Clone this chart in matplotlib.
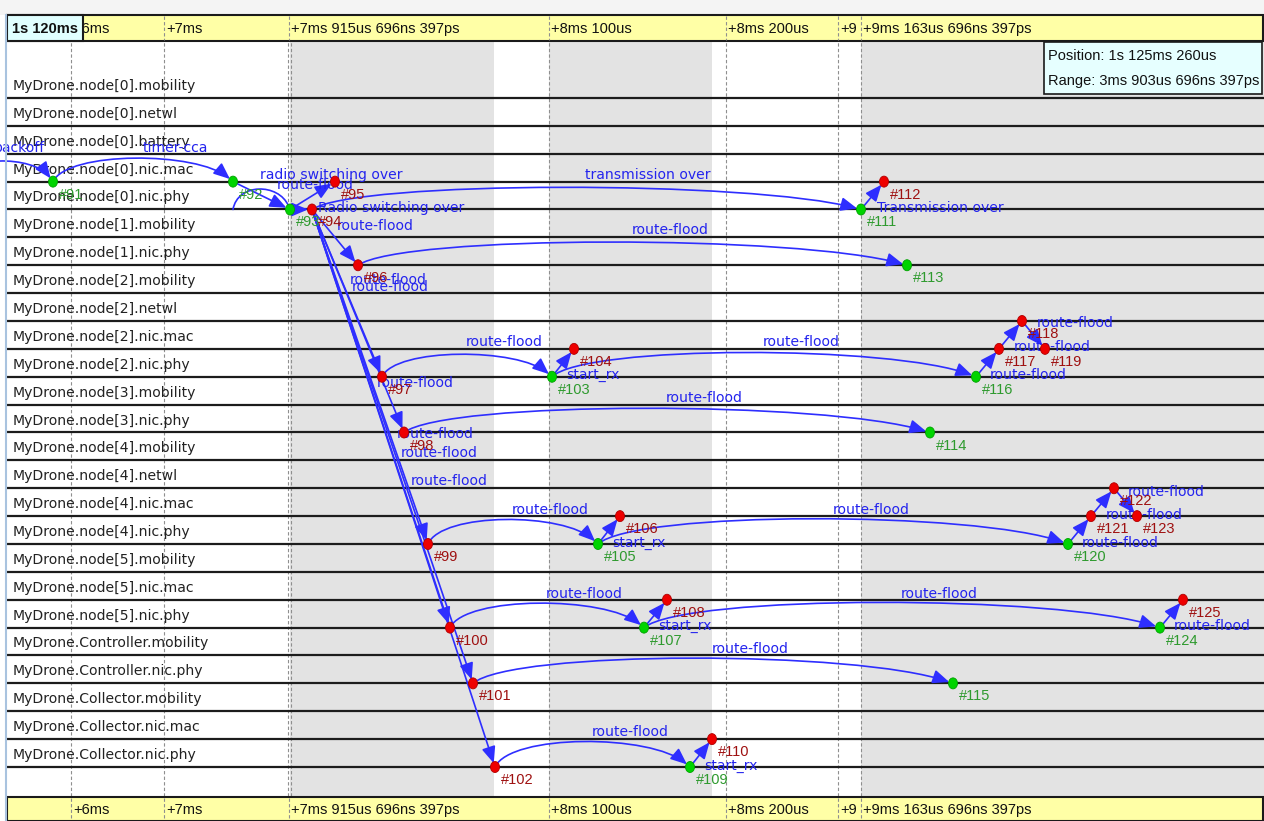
import numpy as np
import matplotlib
matplotlib.use("Agg")
import matplotlib.pyplot as plt
from matplotlib.patches import Rectangle, Ellipse, FancyArrowPatch
from matplotlib.path import Path

plt.rcParams['font.family'] = ['Liberation Sans', 'DejaVu Sans']

# ---------- Data ----------
modules = [
    "MyDrone.node[0].mobility", "MyDrone.node[0].netwl", "MyDrone.node[0].battery",
    "MyDrone.node[0].nic.mac", "MyDrone.node[0].nic.phy", "MyDrone.node[1].mobility",
    "MyDrone.node[1].nic.phy", "MyDrone.node[2].mobility", "MyDrone.node[2].netwl",
    "MyDrone.node[2].nic.mac", "MyDrone.node[2].nic.phy", "MyDrone.node[3].mobility",
    "MyDrone.node[3].nic.phy", "MyDrone.node[4].mobility", "MyDrone.node[4].netwl",
    "MyDrone.node[4].nic.mac", "MyDrone.node[4].nic.phy", "MyDrone.node[5].mobility",
    "MyDrone.node[5].nic.mac", "MyDrone.node[5].nic.phy", "MyDrone.Controller.mobility",
    "MyDrone.Controller.nic.phy", "MyDrone.Collector.mobility", "MyDrone.Collector.nic.mac",
    "MyDrone.Collector.nic.phy",
]

# timeline ticks (position on the non-linear timeline) and their labels
tick_pos = [71, 164, 289, 549, 726, 838, 861]
tick_labels = ["+6ms", "+7ms", "+7ms 915us 696ns 397ps", "+8ms 100us",
               "+8ms 200us", "+9", "+9ms 163us 696ns 397ps"]
# shaded (compressed) timeline regions
shade_start = [290, 549, 861]
shade_end = [494, 712, 1264]

# events: id, timeline position, module index, kind
event_ids = list(range(91, 126))
event_pos = [53, 233, 290, 312, 335, 358, 382, 404, 428, 450, 473, 495,
             552, 574, 598, 620, 644, 667, 690, 712,
             861, 884, 907, 930, 953, 976, 999, 1022, 1045, 1068, 1091, 1114, 1137, 1160, 1183]
event_module = [3, 3, 4, 4, 3, 6, 10, 12, 16, 19, 21, 24,
                10, 9, 16, 15, 19, 18, 24, 23,
                4, 3, 6, 12, 21, 10, 9, 8, 9, 16, 15, 14, 15, 19, 18]
green_events = [91, 92, 93, 103, 105, 107, 109, 111, 113, 114, 115, 116, 120, 124]

# messages: source event (None = before the visible range), target event, shape, arc height, label
msg_src = [None, 91, 92, 92, 93, 93, 94, 111,
           94, 94, 94, 94, 94, 94, 94,
           96, 97, 103, 103, 98, 99, 105, 105, 100, 107, 107, 101, 102, 109,
           116, 117, 118, 120, 121, 122, 124]
msg_dst = [91, 92, 93, 93, 94, 95, 111, 112,
           96, 97, 98, 99, 100, 101, 102,
           113, 103, 104, 116, 114, 105, 106, 120, 107, 108, 124, 115, 109, 110,
           117, 118, 119, 121, 122, 123, 125]
msg_shape = ["arc", "arc", "line", "stub", "line", "line", "arc", "line",
             "line", "line", "line", "line", "line", "line", "line",
             "arc", "arc", "line", "arc", "arc", "arc", "line", "arc", "arc", "line", "arc", "arc", "arc", "line",
             "line", "line", "line", "line", "line", "line", "line"]
msg_height = [20, 23, 0, 20, 0, 0, 22, 0,
              0, 0, 0, 0, 0, 0, 0,
              23, 22, 0, 24, 24, 24, 0, 25, 24, 0, 25, 25, 25, 0,
              0, 0, 0, 0, 0, 0, 0]
msg_text = ["backoff", "timer-cca", "", "radio switching over", "Radio switching over", "route-flood",
            "transmission over", "Transmission over",
            "route-flood", "route-flood", "route-flood", "route-flood", "route-flood", "route-flood", "route-flood",
            "route-flood", "route-flood", "start_rx", "route-flood", "route-flood", "route-flood", "start_rx",
            "route-flood", "route-flood", "start_rx", "route-flood", "route-flood", "route-flood", "start_rx",
            "route-flood", "route-flood", "route-flood", "route-flood", "route-flood", "route-flood", "route-flood"]
# where each message label is written
msg_text_x = [-6, 143, 0, 260, 318, 277, 585, 877,
              337, 350, 352, 377, 397, 401, 411,
              632, 466, 566, 763, 666, 512, 612, 833, 546, 658, 901, 712, 592, 704,
              990, 1014, 1037, 1082, 1106, 1128, 1174]
msg_text_y = [148, 148, 0, 175, 208, 185, 175, 208,
              226, 280, 287, 383, 434, 453, 481,
              230, 342, 375, 342, 398, 510, 543, 510, 594, 626, 594, 649, 732, 766,
              375, 347, 323, 543, 515, 492, 626]

tooltip_lines = ["Position: 1s 125ms 260us", "Range: 3ms 903us 696ns 397ps"]
range_start = "1s 120ms"

# ---------- Layout ----------
W, H = 1264, 821
ROW0, ROW_STEP = 98, 27.875
TOP_RULER = (15, 41)
BOT_RULER = (797, 821)
FS = 10.5
FS_WIDE = 10.1
WIDE = ["DejaVu Sans"]
MSG_COLOR = "#2e2eff"
TXT_BLUE = "#2424ee"


def row_y(i):
    return ROW0 + i * ROW_STEP


def ev_xy(eid):
    k = event_ids.index(eid)
    return event_pos[k], row_y(event_module[k])


fig = plt.figure(figsize=(W / 100, H / 100), dpi=100)
ax = fig.add_axes([0, 0, 1, 1])
ax.set_xlim(0, W)
ax.set_ylim(H, 0)
ax.axis("off")

# window chrome
ax.add_patch(Rectangle((0, 0), W, TOP_RULER[0], facecolor="#f4f4f4", edgecolor="none", zorder=0))
ax.plot([6, 6], [TOP_RULER[0], H], color="#a9c3df", lw=1.5, zorder=20)

# shaded regions
for s, e in zip(shade_start, shade_end):
    ax.add_patch(Rectangle((s, TOP_RULER[1]), e - s, BOT_RULER[0] - TOP_RULER[1],
                           facecolor="#e3e3e3", edgecolor="none", zorder=0))

# dashed tick lines
for x in tick_pos:
    xs = [x - 1.5, x + 1.5] if x == 289 else [x]
    for xx in xs:
        ax.plot([xx, xx], [TOP_RULER[0], H], color="#8f8f8f", lw=0.8,
                dashes=(3, 2), zorder=1)

# module axes
for i, name in enumerate(modules):
    y = row_y(i)
    ax.plot([7, W], [y, y], color="#1c1c1c", lw=1.6, zorder=2)
    ax.text(13, y - 12, name, fontsize=FS_WIDE, family=WIDE, color="#222222",
            va="center", ha="left", zorder=3)


# ---------- Messages ----------
def shorten(p_from, p_to, d):
    v = np.array(p_to, float) - np.array(p_from, float)
    n = np.hypot(*v)
    return tuple(np.array(p_to, float) - v / n * d)


for src, dst, shape, h, txt, tx, ty in zip(msg_src, msg_dst, msg_shape, msg_height,
                                           msg_text, msg_text_x, msg_text_y):
    x2, y2 = ev_xy(dst)
    if src is None:
        x1, y1 = -45, y2
    else:
        x1, y1 = ev_xy(src)
    if shape in ("arc", "stub"):
        y1 = y2 if shape == "stub" else y1
        L = x2 - x1
        top = min(y1, y2) - h / 0.75
        c1 = (x1 + 0.08 * L, top)
        c2 = (x2 - 0.2 * L, top)
        end = shorten(c2, (x2, y2), 4)
        verts = [(x1, y1), c1, c2, end]
        codes = [Path.MOVETO, Path.CURVE4, Path.CURVE4, Path.CURVE4]
    else:
        end = shorten((x1, y1), (x2, y2), 4)
        verts = [(x1, y1), end]
        codes = [Path.MOVETO, Path.LINETO]
    style = "-" if shape == "stub" else "-|>,head_length=1.0,head_width=0.42"
    arr = FancyArrowPatch(path=Path(verts, codes), arrowstyle=style, mutation_scale=10,
                          color=MSG_COLOR, lw=1.2, zorder=4)
    ax.add_patch(arr)
    if txt:
        ax.text(tx, ty, txt, fontsize=FS_WIDE, family=WIDE, color=TXT_BLUE,
                va="center", ha="left", zorder=5)

# ---------- Events ----------
for eid, x, m in zip(event_ids, event_pos, event_module):
    y = row_y(m)
    green = eid in green_events
    ax.add_patch(Ellipse((x, y), 9, 11, facecolor="#00d400" if green else "#ee0000",
                         edgecolor="#00a000" if green else "#b00000", lw=0.6, zorder=7))
    ax.text(x + 6, y + 13, f"#{eid}", fontsize=FS, color="#2e9a2e" if green else "#9e1010",
            va="center", ha="left", zorder=6)

# ---------- Rulers ----------
for y0, y1 in (TOP_RULER, BOT_RULER):
    ax.add_patch(Rectangle((7, y0), W - 8, y1 - y0, facecolor="#ffffa6", edgecolor="#1a1a1a",
                           lw=1.5, zorder=10))
    for x, lab in zip(tick_pos, tick_labels):
        ax.plot([x, x], [y0 + 1, y1 - 1], color="#8f8f8f", lw=0.8, dashes=(3, 2), zorder=11)
        ax.text(x + 2, (y0 + y1) / 2 + 1, lab, fontsize=FS, color="#111111",
                va="center", ha="left", zorder=11)

ax.add_patch(Rectangle((7, TOP_RULER[0]), 76, TOP_RULER[1] - TOP_RULER[0], facecolor="#e0ffff",
                       edgecolor="#1a1a1a", lw=1.5, zorder=12))
ax.text(12, 29, range_start, fontsize=FS, fontweight="bold", color="#111111",
        va="center", ha="left", zorder=13)

# tooltip
ax.add_patch(Rectangle((1044, 42), 218, 52, facecolor="#e6ffff", edgecolor="#1a1a1a",
                       lw=1.2, zorder=12))
for k, line in enumerate(tooltip_lines):
    ax.text(1048, 56 + k * 25, line, fontsize=FS, color="#111111", va="center", ha="left", zorder=13)

fig.savefig("out.png", dpi=100)
